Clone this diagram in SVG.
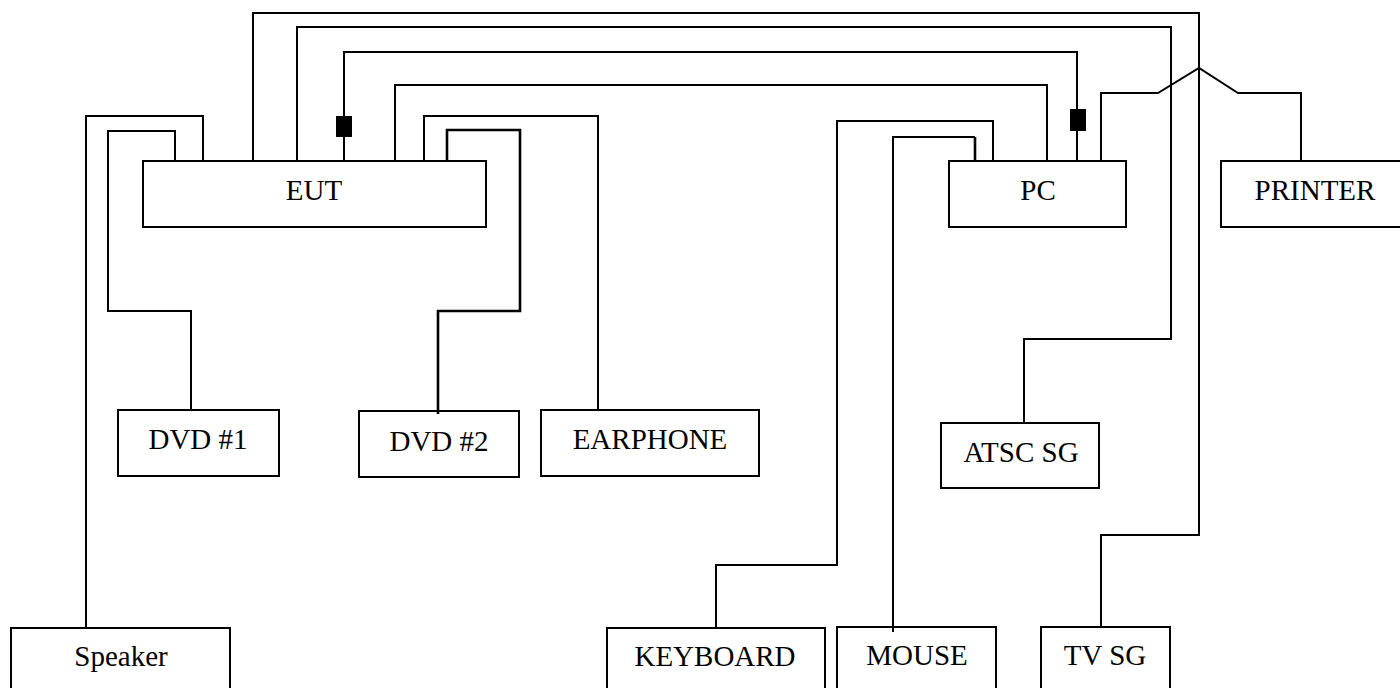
<svg xmlns="http://www.w3.org/2000/svg" width="1400" height="688" viewBox="0 0 1400 688">
<style>
.b{fill:#fff;stroke:#000;stroke-width:2}
.c{fill:none;stroke:#000;stroke-width:2}
.t{stroke-width:2.6}
text{font-family:"Liberation Serif","Times New Roman",serif;font-size:29px;fill:#000;text-anchor:middle}
</style>
<rect width="1400" height="688" fill="#fff"/>
<g id="eut"><rect class="b" x="143" y="161" width="343" height="66"/><text x="314" y="200">EUT</text></g>
<g id="pc"><rect class="b" x="949" y="161" width="177" height="66"/><text x="1038" y="200">PC</text></g>
<g id="printer"><rect class="b" x="1221" y="161" width="182" height="66"/><text x="1315" y="200">PRINTER</text></g>
<g id="dvd1"><rect class="b" x="118" y="410" width="161" height="66"/><text x="198" y="449">DVD #1</text></g>
<g id="dvd2"><rect class="b" x="359" y="411" width="160" height="66"/><text x="439" y="451">DVD #2</text></g>
<g id="earphone"><rect class="b" x="541" y="410" width="218" height="66"/><text x="650" y="449">EARPHONE</text></g>
<g id="atsc"><rect class="b" x="941" y="423" width="158" height="65"/><text x="1021" y="462">ATSC SG</text></g>
<g id="speaker"><rect class="b" x="11" y="628" width="219" height="65"/><text x="121" y="666">Speaker</text></g>
<g id="keyboard"><rect class="b" x="607" y="628" width="218" height="65"/><text x="715" y="666">KEYBOARD</text></g>
<g id="mouse"><rect class="b" x="837" y="627" width="159" height="66"/><text x="917" y="665">MOUSE</text></g>
<g id="tvsg"><rect class="b" x="1041" y="627" width="129" height="66"/><text x="1105" y="665">TV SG</text></g>
<g id="connectors">
<path class="c" d="M253 161V13H1199V535H1101V627"/>
<path class="c" d="M297 161V27H1171V339H1024V423"/>
<path class="c" d="M344 161V52H1077V161"/>
<path class="c" d="M395 161V85H1047V161"/>
<path class="c" d="M424 161V116H598V410"/>
<path class="c t" d="M447 161V130H520V311H438V414"/>
<path class="c" d="M203 161V116H86V628"/>
<path class="c" d="M175 161V131H108V311H191V410"/>
<path class="c" d="M993 161V121H837V565H716V628"/>
<path class="c t" d="M975 161V137"/>
<path class="c" d="M975 137H893V632"/>
<path class="c" d="M1101 161V93H1158L1199 68L1238 93H1301V161"/>
<rect x="336" y="116" width="16" height="21" fill="#000"/>
<rect x="1070" y="109" width="16" height="22" fill="#000"/>
</g>
</svg>
